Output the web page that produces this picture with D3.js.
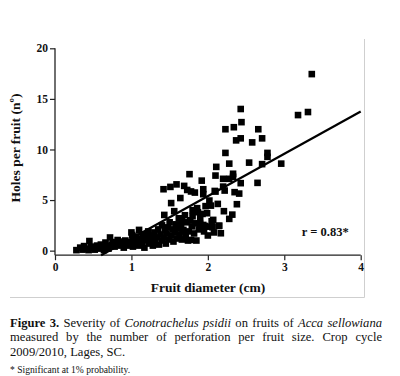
<!DOCTYPE html>
<html>
<head>
<meta charset="utf-8">
<script src="https://cdn.jsdelivr.net/npm/d3@7"></script>
<style>
  html, body { margin: 0; padding: 0; background: #fff; }
  #wrap { position: relative; width: 400px; height: 376px; overflow: hidden; }
  svg { position: absolute; left: 0; top: 0; }
  .cap { position: absolute; left: 10px; width: 372px; font-family: "Liberation Serif", "Times New Roman", serif;
         font-size: 12.6px; color: #111; white-space: nowrap; }
  .just { text-align: justify; text-align-last: justify; }
  .foot { position: absolute; left: 10px; font-family: "Liberation Serif", serif; font-size: 9.6px; color: #111; }
</style>
</head>
<body>
<div id="wrap">
  <svg id="chart" width="400" height="376"></svg>
  <div class="cap just" style="top:315.5px"><b>Figure 3.</b> Severity of <i>Conotrachelus psidii</i> on fruits of <i>Acca sellowiana</i></div>
  <div class="cap just" style="top:330px">measured by the number of perforation per fruit size. Crop cycle</div>
  <div class="cap" style="top:344.5px">2009/2010, Lages, SC.</div>
  <div class="foot" style="top:363.5px">* Significant at 1% probability.</div>
</div>
<script>
// ---- data ----
const diameter = [
  0.28,0.33,0.36,0.38,0.41,0.44,0.45,0.47,0.50,0.52,0.55,0.57,0.60,0.62,0.64,0.66,0.68,0.70,0.72,0.74,0.76,0.78,0.80,0.82,0.84,0.86,0.88,0.90,0.92,0.94,0.96,0.98,
  1.00,1.01,1.02,1.03,1.04,1.05,1.06,1.08,1.10,1.10,1.12,1.14,1.15,1.17,1.18,1.20,1.22,1.23,1.25,1.27,1.28,1.30,1.31,1.33,1.35,1.36,1.38,1.40,1.40,
  1.42,1.43,1.42,1.44,1.45,1.46,1.48,1.49,1.50,1.51,1.52,1.52,1.54,1.55,1.56,1.57,1.58,1.59,1.60,1.61,1.62,1.63,1.64,1.65,1.66,1.66,1.67,1.68,1.69,1.70,1.71,1.72,1.73,1.74,1.75,1.76,1.77,1.78,1.78,1.79,1.80,1.80,
  1.82,1.83,1.84,1.85,1.86,1.87,1.88,1.90,1.90,1.92,1.93,1.94,1.94,1.95,1.96,1.97,1.99,2.00,2.02,2.04,2.05,2.06,2.07,2.08,2.10,2.10,2.11,2.13,2.15,2.17,2.20,2.20,2.21,2.22,2.09,1.94,2.14,1.99,
  2.23,2.23,2.28,2.28,2.28,2.32,2.33,2.33,2.34,2.35,2.37,2.38,2.41,2.43,2.43,2.43,2.44,2.54,2.58,2.65,2.66,2.71,2.71,2.78,2.78,2.96,3.18,3.31,3.36
];
const holes = [
  0.05,0.30,0.10,0.45,0.20,0.05,0.95,0.40,0.30,0.10,0.50,0.20,0.60,0.35,0.05,0.80,0.45,0.20,1.30,0.60,0.85,0.40,0.70,1.05,0.50,0.90,0.75,0.30,1.00,0.60,0.85,0.50,
  1.80,1.55,0.40,0.80,1.10,0.60,1.40,0.90,2.05,0.50,1.20,0.80,1.60,0.30,1.00,1.40,1.90,0.70,1.10,1.50,0.50,1.80,0.90,1.30,2.10,0.60,1.60,1.00,2.50,
  6.07,3.53,1.30,2.00,0.70,1.70,2.30,1.10,2.80,6.30,4.70,1.50,2.10,0.90,3.90,1.80,2.60,6.55,1.20,2.20,3.20,1.60,5.20,2.50,1.10,2.90,1.90,2.05,6.40,3.50,1.40,2.80,6.00,1.00,1.90,7.56,3.00,1.06,5.85,2.40,4.00,3.40,
  1.70,5.74,2.70,1.00,4.20,3.80,2.10,2.64,3.20,6.92,3.63,6.07,5.58,1.90,2.44,4.40,3.70,1.50,4.95,4.45,2.90,2.31,3.04,1.80,5.84,7.42,8.28,4.62,2.47,1.72,6.33,7.10,3.90,5.94,5.90,2.54,2.44,2.37,
  9.66,12.0,7.10,8.60,3.14,3.56,7.60,7.30,12.2,5.78,10.9,4.59,5.64,6.67,11.1,14.0,12.7,8.70,10.7,6.70,12.0,11.1,8.55,9.66,9.27,8.60,13.4,13.7,17.45
];
const xTicks = [0, 1, 2, 3, 4];
const yTicks = [0, 5, 10, 15, 20];
const fitIntercept = -2.97;
const fitSlope = 4.18;
const corrLabel = "r = 0.83*";

// ---- chart ----
const svg = d3.select("#chart");
const x = d3.scaleLinear().domain([0, 4]).range([55, 360.7]);
const y = d3.scaleLinear().domain([-0.45, 20]).range([255.2, 48.3]);

// light frame
svg.append("line").attr("x1", 364.5).attr("x2", 364.5).attr("y1", 39).attr("y2", 297.5)
  .attr("stroke", "#cfcfcf").attr("stroke-width", 1);
svg.append("line").attr("x1", 10).attr("x2", 364.5).attr("y1", 297.5).attr("y2", 297.5)
  .attr("stroke", "#cfcfcf").attr("stroke-width", 1);

const font = "'Liberation Serif', 'Times New Roman', serif";

// axes
const xAxis = d3.axisBottom(x).tickValues(xTicks).tickFormat(d3.format("d")).tickSize(5).tickSizeOuter(0);
const yAxis = d3.axisLeft(y).tickValues(yTicks).tickFormat(d3.format("d")).tickSize(5).tickSizeOuter(0);

const gx = svg.append("g").attr("transform", `translate(0,${y(-0.45)})`).call(xAxis);
const gy = svg.append("g").attr("transform", `translate(${x(0)},0)`).call(yAxis);
[gx, gy].forEach(g => {
  g.select(".domain").attr("stroke", "#222").attr("stroke-width", 1.3);
  g.selectAll(".tick line").attr("stroke", "#222").attr("stroke-width", 1.2);
  g.selectAll(".tick text").attr("fill", "#111").style("font-family", font)
    .style("font-weight", "bold").style("font-size", "11.5px");
});
gx.selectAll(".tick text").attr("dy", "0.95em").attr("y", 5);
gy.selectAll(".tick text").attr("x", -7);
gy.select(".domain").attr("d", `M0,${y(20)}V${y(-0.45)}`);
gx.select(".domain").attr("d", `M${x(0)},0H${x(4)}`);

// points
const pts = diameter.map((d, i) => [d, holes[i]]);
const s = 6.6;
svg.append("g").selectAll("rect").data(pts).join("rect")
  .attr("x", d => x(d[0]) - s / 2).attr("y", d => y(d[1]) - s / 2)
  .attr("width", s).attr("height", s).attr("fill", "#000");

// regression line
const x0 = (-0.45 - fitIntercept) / fitSlope;
const line = d3.line().x(d => x(d)).y(d => y(fitIntercept + fitSlope * d));
svg.append("path").datum([x0, 4]).attr("d", line)
  .attr("stroke", "#000").attr("stroke-width", 2.2).attr("fill", "none");

// r label
svg.append("text").attr("x", x(3.23)).attr("y", y(1.45)).text(corrLabel)
  .style("font-family", font).style("font-weight", "bold").style("font-size", "12.5px").attr("fill", "#111");

// axis titles
svg.append("text").attr("x", 208).attr("y", 292).attr("text-anchor", "middle")
  .text("Fruit diameter (cm)").style("font-family", font).style("font-weight", "bold")
  .style("font-size", "13.5px").attr("fill", "#111");
svg.append("text").attr("transform", "translate(20,148) rotate(-90)").attr("text-anchor", "middle")
  .text("Holes per fruit (nº)").style("font-family", font).style("font-weight", "bold")
  .style("font-size", "13.5px").attr("fill", "#111");
</script>
</body>
</html>
